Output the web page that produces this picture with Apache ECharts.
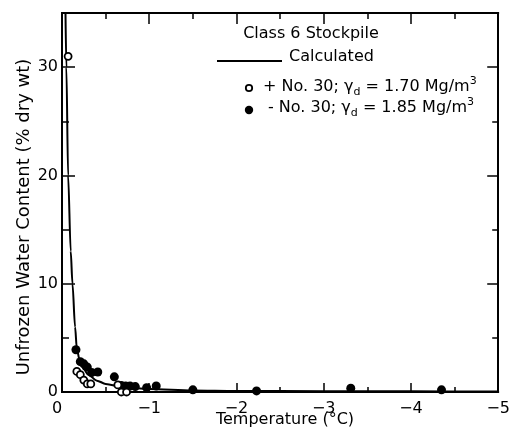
<!DOCTYPE html>
<html>
<head>
<meta charset="utf-8">
<script src="https://cdn.jsdelivr.net/npm/echarts@6/dist/echarts.min.js"></script>
<style>
  html, body { margin: 0; padding: 0; background: #fff; }
  #chart { width: 513px; height: 440px; }
</style>
</head>
<body>
<div id="chart"></div>
<script>
// ---- Data ----
var calcT = [-0.04, -0.05, -0.07, -0.1, -0.12, -0.15, -0.17, -0.2, -0.25, -0.3, -0.4, -0.5, -0.7, -1.0, -1.5, -2.0, -3.0, -4.0, -5.0];
var calcW = [35, 30, 20, 13, 10, 6, 4, 3, 2.1, 1.6, 1.05, 0.75, 0.45, 0.28, 0.15, 0.1, 0.07, 0.06, 0.05];

var fillT = [-0.16, -0.21, -0.25, -0.29, -0.34, -0.41, -0.6, -0.68, -0.73, -0.78, -0.84, -0.97, -1.08, -1.5, -2.23, -3.31, -4.35];
var fillW = [3.9, 2.8, 2.6, 2.3, 1.8, 1.85, 1.4, 0.6, 0.55, 0.55, 0.5, 0.4, 0.55, 0.2, 0.1, 0.35, 0.2];

var openT = [-0.07, -0.17, -0.21, -0.25, -0.29, -0.33, -0.64, -0.68, -0.74];
var openW = [31.0, 1.9, 1.6, 1.1, 0.75, 0.75, 0.65, 0.0, 0.0];

var xTickLabels = ['0', '\u22121', '\u22122', '\u22123', '\u22124', '\u22125'];
var yTickLabels = ['0', '10', '20', '30'];

var FONT = 'DejaVu Sans';

function pairs(a, b) { return a.map(function (v, i) { return [v, b[i]]; }); }

var chart = echarts.init(document.getElementById('chart'), null, { renderer: 'canvas' });

function xAx(pos, interval, len, labels) {
  return {
    type: 'value', position: pos, min: -5, max: 0, interval: interval, inverse: true,
    gridIndex: 0,
    axisLine: { show: true, onZero: false, lineStyle: { color: '#000', width: 2 } },
    axisTick: { show: true, inside: true, length: len, lineStyle: { color: '#000', width: 1.5 } },
    axisLabel: labels ? {
      show: true, margin: 9, color: '#000', fontFamily: FONT, fontSize: 16,
      formatter: function (v) {
        var i = Math.round(-v);
        if (i === 0) return '{z|' + xTickLabels[0] + '}';
        return xTickLabels[i];
      },
      rich: { z: { fontFamily: FONT, fontSize: 16, color: '#000', padding: [0, 10, 0, 0] } }
    } : { show: false },
    splitLine: { show: false }
  };
}
function yAx(pos, interval, len, labels) {
  return {
    type: 'value', position: pos, min: 0, max: 35, interval: interval,
    gridIndex: 0,
    axisLine: { show: true, onZero: false, lineStyle: { color: '#000', width: 2 } },
    axisTick: { show: true, inside: true, length: len, lineStyle: { color: '#000', width: 1.5 } },
    axisLabel: labels ? {
      show: true, margin: 4, color: '#000', fontFamily: FONT, fontSize: 16,
      formatter: function (v) {
        var i = Math.round(v / 10);
        if (v % 10 !== 0 || i >= yTickLabels.length) return '';
        return yTickLabels[i];
      }
    } : { show: false },
    splitLine: { show: false }
  };
}

var richLeg = {
  n: { fontFamily: FONT, fontSize: 16, fill: '#000', lineHeight: 22, verticalAlign: 'middle' },
  s: { fontFamily: FONT, fontSize: 11, fill: '#000', lineHeight: 12, verticalAlign: 'bottom' },
  p: { fontFamily: FONT, fontSize: 11, fill: '#000', lineHeight: 12, verticalAlign: 'top' }
};

var option = {
  backgroundColor: '#fff',
  animation: false,
  grid: { left: 62, right: 13, top: 13, bottom: 48, containLabel: false },
  xAxis: [
    xAx('bottom', 1, 9, true),
    xAx('top', 1, 11, false),
    xAx('bottom', 0.5, 5, false),
    xAx('top', 0.5, 6, false)
  ],
  yAxis: [
    yAx('left', 10, 13, true),
    yAx('right', 10, 11, false),
    yAx('left', 5, 7, false),
    yAx('right', 5, 6, false)
  ],
  series: [
    {
      name: 'Calculated', type: 'line', xAxisIndex: 0, yAxisIndex: 0,
      data: pairs(calcT, calcW), showSymbol: false, symbol: 'none',
      smooth: 0.3, smoothMonotone: 'x',
      lineStyle: { color: '#000', width: 2 }, z: 2
    },
    {
      name: '- No. 30', type: 'scatter', xAxisIndex: 0, yAxisIndex: 0,
      data: pairs(fillT, fillW), symbol: 'circle', symbolSize: 9,
      itemStyle: { color: '#000', opacity: 1 }, z: 3
    },
    {
      name: '+ No. 30', type: 'scatter', xAxisIndex: 0, yAxisIndex: 0,
      data: pairs(openT, openW), symbol: 'circle', symbolSize: 7,
      itemStyle: { color: '#fff', borderColor: '#000', borderWidth: 1.8, opacity: 1 }, z: 4
    }
  ],
  graphic: [
    { type: 'text', x: 285, y: 420, style: { text: 'Temperature (°C)', fill: '#000', font: '16px "DejaVu Sans"', align: 'center', verticalAlign: 'middle' } },
    { type: 'text', x: 24, y: 217, rotation: Math.PI / 2, style: { text: 'Unfrozen Water Content (% dry wt)', fill: '#000', font: '18px "DejaVu Sans"', align: 'center', verticalAlign: 'middle' } },
    { type: 'text', x: 311, y: 34, style: { text: 'Class 6 Stockpile', fill: '#000', font: '16px "DejaVu Sans"', align: 'center', verticalAlign: 'middle' } },
    { type: 'line', shape: { x1: 217, y1: 61, x2: 282, y2: 61 }, style: { stroke: '#000', lineWidth: 2 } },
    { type: 'text', x: 289, y: 57, style: { text: 'Calculated', fill: '#000', font: '16px "DejaVu Sans"', align: 'left', verticalAlign: 'middle' } },
    { type: 'circle', shape: { cx: 249, cy: 88, r: 3.2 }, style: { fill: '#fff', stroke: '#000', lineWidth: 1.8 } },
    { type: 'circle', shape: { cx: 249, cy: 110, r: 4.2 }, style: { fill: '#000' } },
    { type: 'text', x: 263, y: 87, style: {
        text: '{n|+ No. 30; \u03b3}{s|d}{n| = 1.70 Mg/m}{p|3}', align: 'left', verticalAlign: 'middle', rich: richLeg } },
    { type: 'text', x: 268, y: 108, style: {
        text: '{n|- No. 30; \u03b3}{s|d}{n| = 1.85 Mg/m}{p|3}', align: 'left', verticalAlign: 'middle', rich: richLeg } }
  ]
};
chart.setOption(option);
</script>
</body>
</html>
